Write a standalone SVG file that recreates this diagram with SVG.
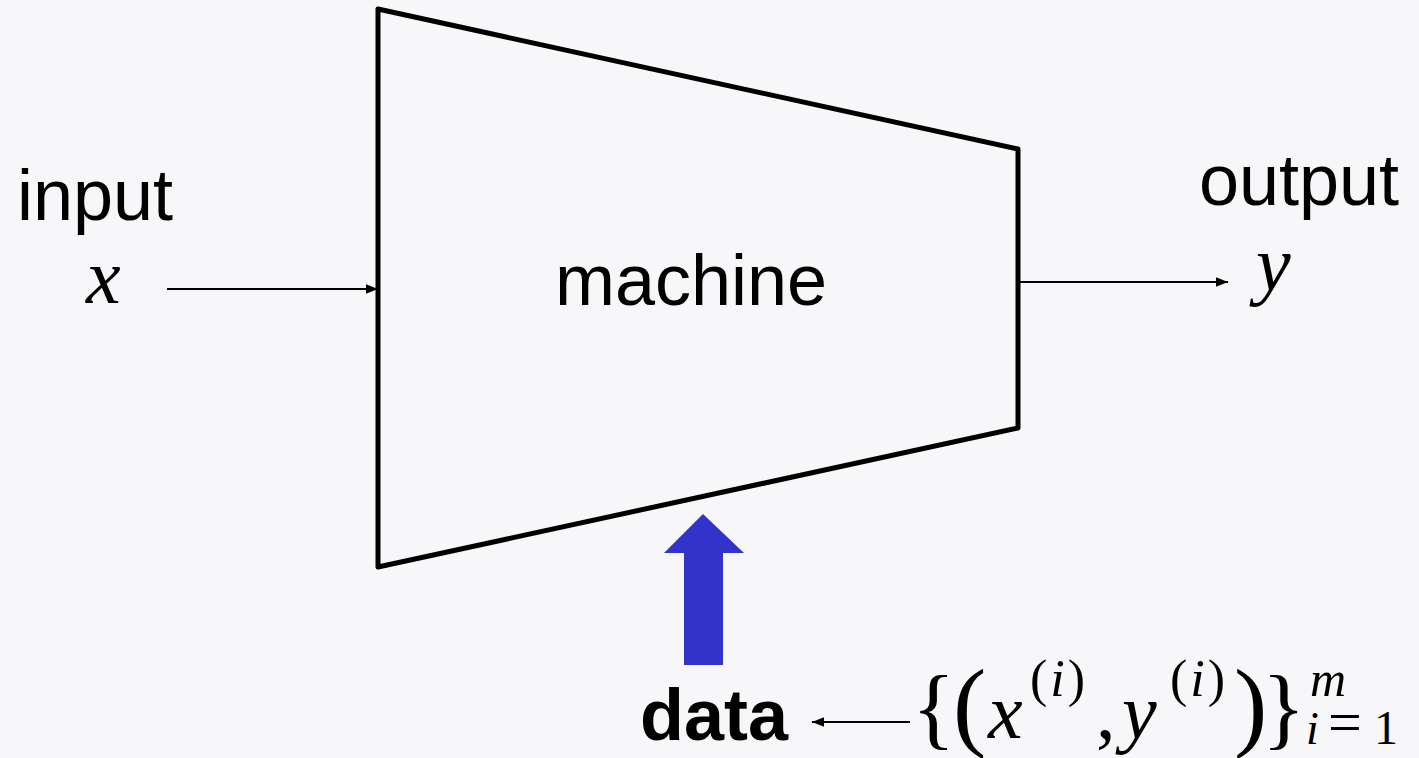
<svg xmlns="http://www.w3.org/2000/svg" width="1419" height="758" viewBox="0 0 1419 758">
<style>
.sans{font-family:"Liberation Sans",Arial,sans-serif;font-size:72px;fill:#000}
.math{font-family:"Liberation Serif","DejaVu Serif",serif;font-style:italic;fill:#000}
.rm{font-family:"Liberation Serif","DejaVu Serif",serif;fill:#000}
.conn{stroke:#000;stroke-width:2;fill:none}
</style>
<defs>
<marker id="ah" viewBox="0 0 10 10" refX="10" refY="5" markerWidth="12" markerHeight="12" markerUnits="userSpaceOnUse" orient="auto">
<path d="M0,1 L10,5 L0,9 Z" fill="#000"/>
</marker>
</defs>
<rect width="1419" height="758" fill="#f7f7f9"/>
<g id="machine">
<polygon points="378,9 1018,149 1018,428 378,567" fill="none" stroke="#000" stroke-width="5" stroke-linejoin="round"/>
<text class="sans" x="691" y="305" text-anchor="middle" font-size="73">machine</text>
</g>
<g id="input">
<text class="sans" x="95" y="220" text-anchor="middle">input</text>
<text class="math" x="86" y="303" font-size="78">x</text>
</g>
<g id="output">
<text class="sans" x="1299" y="205" text-anchor="middle">output</text>
<text class="math" x="1256" y="290" font-size="78">y</text>
</g>
<g id="data">
<text class="sans" x="640" y="740" font-weight="bold">data</text>
</g>
<g id="dataset">
<text class="rm" x="912" y="738" font-size="90">{</text>
<text class="rm" x="953" y="738" font-size="100">(</text>
<text class="math" x="988" y="738" font-size="78">x</text>
<text class="rm" x="1030" y="696" font-size="52" letter-spacing="3">(<tspan class="math">i</tspan>)</text>
<text class="rm" x="1096" y="738" font-size="78">,</text>
<text class="math" x="1122" y="738" font-size="78">y</text>
<text class="rm" x="1170" y="696" font-size="52" letter-spacing="3">(<tspan class="math">i</tspan>)</text>
<text class="rm" x="1234" y="738" font-size="100">)</text>
<text class="rm" x="1262" y="738" font-size="90">}</text>
<text class="math" x="1310" y="696" font-size="50">m</text>
<text class="math" x="1306" y="744" font-size="46">i</text>
<text class="rm" x="1328" y="742" font-size="60">=</text>
<text class="rm" x="1374" y="744" font-size="48">1</text>
</g>
<g id="connectors">
<line class="conn" x1="167" y1="289" x2="378" y2="289" marker-end="url(#ah)"/>
<line class="conn" x1="1020" y1="282" x2="1228" y2="282" marker-end="url(#ah)"/>
<line class="conn" x1="910" y1="722" x2="812" y2="722" marker-end="url(#ah)"/>
<polygon points="703,514 744,553 723,553 723,665 684,665 684,553 664,553" fill="#3333cc"/>
</g>
</svg>
